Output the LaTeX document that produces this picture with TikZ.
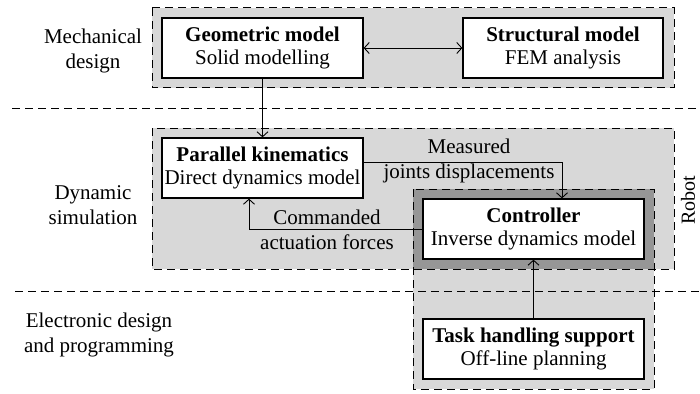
\documentclass[tikz,border=0pt]{standalone}
\usepackage{fontspec}
\setmainfont{Liberation Serif}
\usetikzlibrary{arrows.meta}
\definecolor{lgray}{RGB}{216,216,216}
\definecolor{dgray}{RGB}{150,150,150}
\tikzset{
  box/.style={draw=black, line width=1.3pt, fill=white, minimum height=60pt, align=center, inner sep=2pt,
              font=\fontsize{21}{23}\selectfont},
  lbl/.style={align=center, inner sep=0pt, font=\fontsize{21}{25}\selectfont},
  side/.style={inner sep=0pt, font=\fontsize{20}{25}\selectfont},
  dbox/.style={draw=black, line width=1pt, dash pattern=on 8pt off 5pt},
  sep/.style={draw=black, line width=1pt, dash pattern=on 8pt off 5pt},
  arr/.style={line width=0.9pt, -{Straight Barb[length=5pt,width=11pt]}},
  darr/.style={line width=0.9pt, {Straight Barb[length=5pt,width=11pt]}-{Straight Barb[length=5pt,width=11pt]}}
}
\begin{document}
\begin{tikzpicture}[x=1pt,y=-1pt]
\useasboundingbox (0,0) rectangle (700,393);
% fills
\fill[lgray] (152,8) rectangle (674,88);
\fill[lgray] (152,128) rectangle (674,269);
\fill[lgray] (413,189) rectangle (654,389);
\fill[dgray] (413,189) rectangle (654,269);
% dashed borders
\draw[dbox] (152,8) rectangle (674,88);
\draw[dbox] (152,128) rectangle (674,269);
\draw[dbox] (413,189) rectangle (654,389);
% separators
\coordinate (s1a) at (12,108);
\coordinate (s1b) at (700,108);
\coordinate (s2a) at (15,291);
\coordinate (s2b) at (700,291);
\draw[sep] (s1a) -- (s1b);
\draw[sep] (s2a) -- (s2b);
% boxes
\node[box, minimum width=201pt] (geo) at (262.5,48) {\textbf{Geometric model}\\Solid modelling};
\node[box, minimum width=200pt] (str) at (563,48) {\textbf{Structural model}\\FEM analysis};
\node[box, minimum width=201pt] (par) at (262.5,168) {\textbf{Parallel kinematics}\\Direct dynamics model};
\node[box, minimum width=221pt] (ctrl) at (533.5,229) {\textbf{Controller}\\Inverse dynamics model};
\node[box, minimum width=221pt] (task) at (533.5,349) {\textbf{Task handling support}\\Off-line planning};
% connectors
\draw[darr] (geo) -- (str);
\draw[arr] (geo) -- (par);
\draw[arr] ([yshift=6pt]par.east) -| ([xshift=28.5pt]ctrl.north);
\draw[arr] (ctrl.west) -| ([xshift=-13.5pt]par.south);
\draw[arr] (task) -- (ctrl);
% labels
\node[lbl] (meas) at (469,160.5) {Measured\\joints displacements};
\node[lbl] (comm) at (327,229.5) {Commanded\\actuation forces};
\node[lbl] (mech) at (93,51) {Mechanical\\design};
\node[lbl] (dyn) at (93,205) {Dynamic\\simulation};
\node[lbl] (elec) at (99,335) {Electronic design\\and programming};
\node[side, rotate=90] (robot) at (688,200) {Robot};
\end{tikzpicture}
\end{document}
